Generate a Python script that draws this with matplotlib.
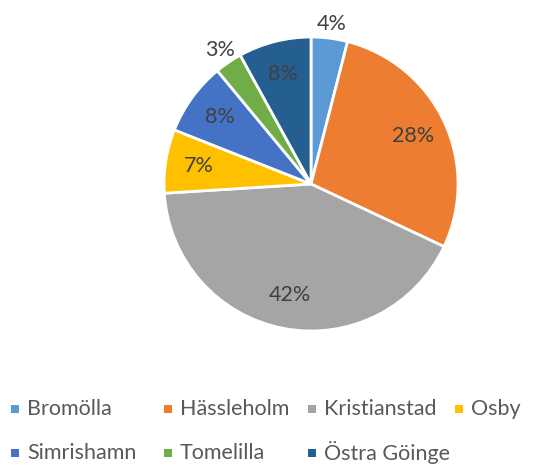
import matplotlib
matplotlib.use("Agg")
import matplotlib.pyplot as plt
from matplotlib.patches import Rectangle
import numpy as np

plt.rcParams['font.family'] = ['Lato', 'DejaVu Sans']

# data
kommuner = ["Bromölla", "Hässleholm", "Kristianstad", "Osby",
            "Simrishamn", "Tomelilla", "Östra Göinge"]
andelar = [4, 28, 42, 7, 8, 3, 8]
farger = ["#5B9BD5", "#ED7D31", "#A5A5A5", "#FFC000",
          "#4472C4", "#70AD47", "#255E91"]
utanfor = ["Bromölla", "Tomelilla"]  # etiketter utanför tårtan

W, H = 546, 466
fig = plt.figure(figsize=(W / 100, H / 100), dpi=100)
ax = fig.add_axes([0.3004, 0.2897, 0.5385, 0.6309])

wedges, _ = ax.pie(andelar, colors=farger, startangle=90, counterclock=False,
                   radius=1.0, wedgeprops=dict(edgecolor="white", linewidth=2))
ax.set_xlim(-1, 1)
ax.set_ylim(-1, 1)
ax.set_aspect("equal")
ax.axis("off")

for w, namn, v in zip(wedges, kommuner, andelar):
    ang = np.deg2rad((w.theta1 + w.theta2) / 2)
    r = 1.1 if namn in utanfor else 0.77
    ax.text(r * np.cos(ang), r * np.sin(ang), f"{v}%", ha="center", va="center",
            fontsize=15.5, color="#404040", clip_on=False)

# legend, placerad för hand i ett rutnät som i Excel
kol_x = [11, 164, 308, 455]
rad_y = [409, 453]
for i, (namn, c) in enumerate(zip(kommuner, farger)):
    x = kol_x[i % 4]
    y = rad_y[i // 4]
    fig.add_artist(Rectangle((x / W, (H - y - 4) / H), 8 / W, 8 / H,
                             transform=fig.transFigure, facecolor=c, edgecolor="none"))
    fig.text((x + 16) / W, (H - y) / H, namn, ha="left", va="center",
             fontsize=15.5, color="#595959")

fig.savefig("out.png", dpi=100)
